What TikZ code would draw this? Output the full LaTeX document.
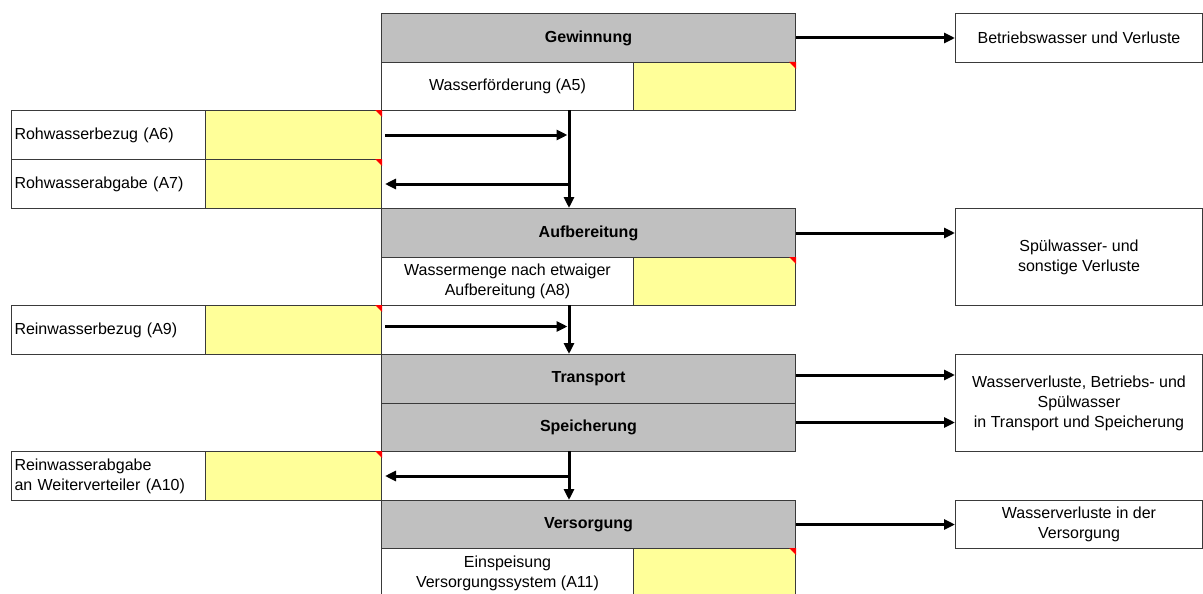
\documentclass[tikz,border=0pt]{standalone}
\usepackage{fontspec}
\setmainfont{Liberation Sans}
\usetikzlibrary{arrows.meta}
\definecolor{gr}{HTML}{C0C0C0}
\definecolor{yel}{HTML}{FFFF99}
\definecolor{bd}{HTML}{3A3A3A}
\tikzset{
  base/.style={draw=bd, line width=1pt, inner sep=3pt, anchor=north west,
    font=\fontsize{16}{20}\selectfont, align=center},
  stage/.style={base, fill=gr, font=\fontsize{16}{20}\selectfont\bfseries,
    minimum width=414pt},
  val/.style={base, minimum width=252pt},
  inp/.style={base, fill=yel},
  lbl/.style={base, align=left, text width=188pt},
  outb/.style={base, minimum width=247pt},
  arr/.style={line width=3pt, -{Triangle[length=11pt,width=10pt]}}
}
\newcommand{\redflag}[1]{\fill[red] (#1.north east) -- ++(-7,0) -- ++(7,7) -- cycle;}
\begin{document}
\begin{tikzpicture}[x=1pt,y=-1pt]
\useasboundingbox[fill=white] (0,0) rectangle (1203,594);
% central column
\node[stage, minimum height=49pt] (gew) at (381,13) {Gewinnung};
\node[val, minimum height=48pt] (wf) at (381,62) {Wasserförderung (A5)};
\node[inp, minimum width=162pt, minimum height=48pt] (wfv) at (633,62) {};
\node[stage, minimum height=49pt] (auf) at (381,208) {Aufbereitung};
\node[val, minimum height=48pt] (wm) at (381,257) {Wassermenge nach etwaiger\\Aufbereitung (A8)};
\node[inp, minimum width=162pt, minimum height=48pt] (wmv) at (633,257) {};
\node[stage, minimum height=49pt] (trans) at (381,354) {Transport};
\node[stage, minimum height=48pt] (spei) at (381,403) {Speicherung};
\node[stage, minimum height=48pt] (vers) at (381,500) {Versorgung};
\node[val, minimum height=49pt] (ein) at (381,548) {Einspeisung\\Versorgungssystem (A11)};
\node[inp, minimum width=162pt, minimum height=49pt] (einv) at (633,548) {};
% left column
\node[lbl, minimum height=49pt] (rbz) at (11,110) {Rohwasserbezug (A6)};
\node[inp, minimum width=176pt, minimum height=49pt] (rbzv) at (205,110) {};
\node[lbl, minimum height=49pt] (rab) at (11,159) {Rohwasserabgabe (A7)};
\node[inp, minimum width=176pt, minimum height=49pt] (rabv) at (205,159) {};
\node[lbl, minimum height=49pt] (rwb) at (11,305) {Reinwasserbezug (A9)};
\node[inp, minimum width=176pt, minimum height=49pt] (rwbv) at (205,305) {};
\node[lbl, minimum height=49pt] (rwa) at (11,451) {Reinwasserabgabe\\an Weiterverteiler (A10)};
\node[inp, minimum width=176pt, minimum height=49pt] (rwav) at (205,451) {};
% right column
\node[outb, minimum height=49pt] (o1) at (955,13) {Betriebswasser und Verluste};
\node[outb, minimum height=97pt] (o2) at (955,208) {Spülwasser- und\\sonstige Verluste};
\node[outb, minimum height=97pt] (o3) at (955,354) {Wasserverluste, Betriebs- und\\Spülwasser\\in Transport und Speicherung};
\node[outb, minimum height=48pt] (o4) at (955,500) {Wasserverluste in der\\Versorgung};
% red flags
\foreach \n in {wfv,wmv,einv,rbzv,rabv,rwbv,rwav}{\redflag{\n}}
% junction coordinates
\coordinate (v1) at (569,110);
\coordinate (v2) at (569,305);
\coordinate (v3) at (569,451);
% vertical flow arrows
\draw[arr] (v1) -- (v1 |- auf.north);
\draw[arr] (v2) -- (v2 |- trans.north);
\draw[arr] (v3) -- (v3 |- vers.north);
% side inputs/outputs
\draw[arr, shorten <=3pt, shorten >=1.5pt] (rbzv.east) -- (rbzv.east -| v1);
\draw[arr, shorten >=3pt] (rabv.east -| v1) -- (rabv.east);
\draw[arr, shorten <=3pt, shorten >=1.5pt] ([yshift=3.5pt]rwbv.east) -- ([yshift=3.5pt]rwbv.east -| v2);
\draw[arr, shorten >=3pt] (rwav.east -| v3) -- (rwav.east);
% losses
\draw[arr] (gew.east) -- (gew.east -| o1.west);
\draw[arr] (auf.east) -- (auf.east -| o2.west);
\draw[arr] ([yshift=4pt]trans.east) -- ([yshift=4pt]trans.east -| o3.west);
\draw[arr] ([yshift=5pt]spei.east) -- ([yshift=5pt]spei.east -| o3.west);
\draw[arr] (vers.east) -- (vers.east -| o4.west);
\end{tikzpicture}
\end{document}
